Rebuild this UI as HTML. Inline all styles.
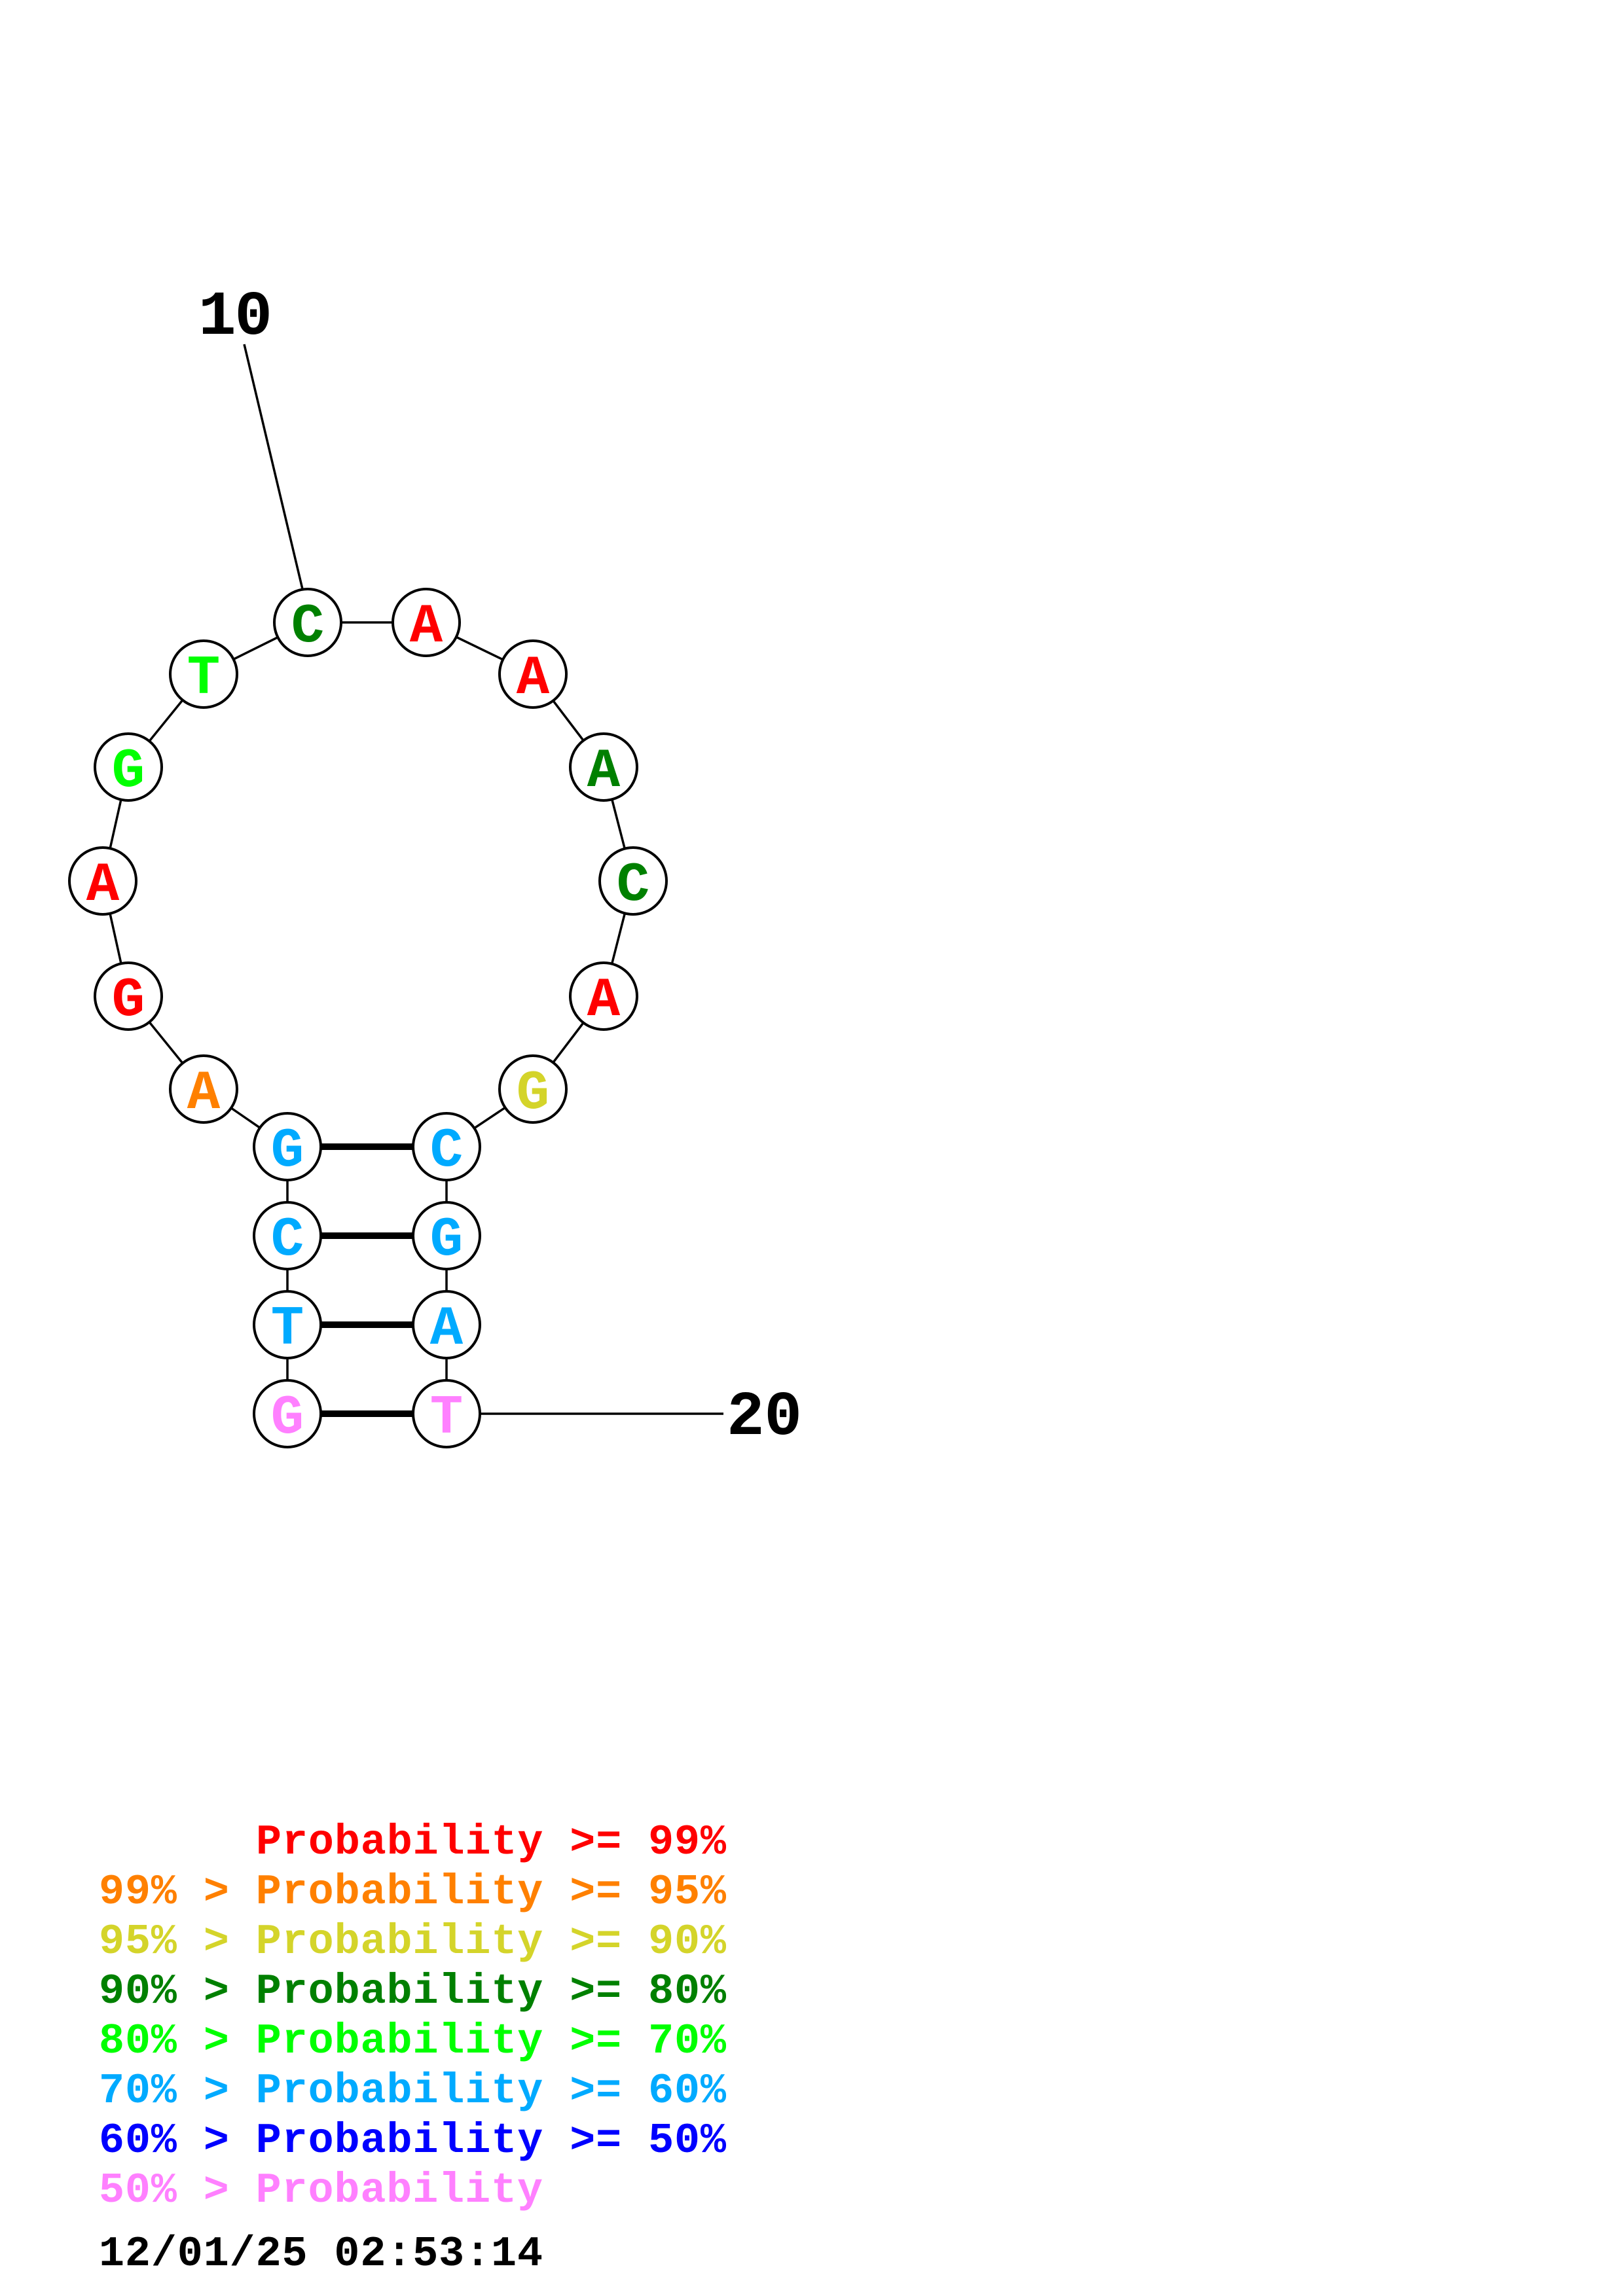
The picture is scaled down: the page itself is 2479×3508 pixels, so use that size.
<!DOCTYPE html>
<html><head><meta charset="utf-8"><style>html,body{margin:0;padding:0;background:#fff}svg{display:block}</style></head>
<body>
<svg width="2479" height="3508" viewBox="0 0 2479 3508" xmlns="http://www.w3.org/2000/svg">
<rect width="2479" height="3508" fill="#fff"/>
<g stroke="#000" stroke-width="3.5" fill="none">
<line x1="373" y1="526" x2="462" y2="900"/>
<line x1="734" y1="2160" x2="1105" y2="2160"/>
<polyline points="439,2160 439,2024 439,1888 439,1752 311,1664 196,1522 157,1346 196,1172 311,1030 470,951 651,951 814,1030 922,1172 967,1346 922,1522 814,1664 682,1752 682,1888 682,2024 682,2160"/>
</g>
<g stroke="#000" stroke-width="10">
<line x1="439" y1="1752" x2="682" y2="1752"/>
<line x1="439" y1="1888" x2="682" y2="1888"/>
<line x1="439" y1="2024" x2="682" y2="2024"/>
<line x1="439" y1="2160" x2="682" y2="2160"/>
</g>
<g stroke="#000" stroke-width="4" fill="#fff">
<circle cx="470" cy="951" r="51"/><circle cx="651" cy="951" r="51"/>
<circle cx="814" cy="1030" r="51"/><circle cx="922" cy="1172" r="51"/>
<circle cx="967" cy="1346" r="51"/><circle cx="922" cy="1522" r="51"/>
<circle cx="814" cy="1664" r="51"/><circle cx="682" cy="1752" r="51"/>
<circle cx="682" cy="1888" r="51"/><circle cx="682" cy="2024" r="51"/>
<circle cx="682" cy="2160" r="51"/>
<circle cx="311" cy="1030" r="51"/><circle cx="196" cy="1172" r="51"/>
<circle cx="157" cy="1346" r="51"/><circle cx="196" cy="1522" r="51"/>
<circle cx="311" cy="1664" r="51"/><circle cx="439" cy="1752" r="51"/>
<circle cx="439" cy="1888" r="51"/><circle cx="439" cy="2024" r="51"/>
<circle cx="439" cy="2160" r="51"/>
</g>
<g font-family="Liberation Mono, monospace" font-weight="bold" font-size="84" text-anchor="middle">
<text x="470" y="980" fill="#008000">C</text>
<text x="651" y="980" fill="#ff0000">A</text>
<text x="814" y="1059" fill="#ff0000">A</text>
<text x="922" y="1201" fill="#008000">A</text>
<text x="967" y="1375" fill="#008000">C</text>
<text x="922" y="1551" fill="#ff0000">A</text>
<text x="814" y="1693" fill="#d4d42a">G</text>
<text x="682" y="1781" fill="#00aaff">C</text>
<text x="682" y="1917" fill="#00aaff">G</text>
<text x="682" y="2053" fill="#00aaff">A</text>
<text x="682" y="2189" fill="#ff80ff">T</text>
<text x="311" y="1059" fill="#00ff00">T</text>
<text x="196" y="1201" fill="#00ff00">G</text>
<text x="157" y="1375" fill="#ff0000">A</text>
<text x="196" y="1551" fill="#ff0000">G</text>
<text x="311" y="1693" fill="#ff8000">A</text>
<text x="439" y="1781" fill="#00aaff">G</text>
<text x="439" y="1917" fill="#00aaff">C</text>
<text x="439" y="2053" fill="#00aaff">T</text>
<text x="439" y="2189" fill="#ff80ff">G</text>
</g>
<g font-family="Liberation Mono, monospace" font-weight="bold" font-size="96" fill="#000">
<text x="303" y="510" textLength="113">10</text>
<text x="1110" y="2191" textLength="115">20</text>
</g>
<g font-family="Liberation Mono, monospace" font-weight="bold" font-size="65">
<text x="391" y="2832" fill="#ff0000" textLength="718">Probability &gt;= 99%</text>
<text x="151" y="2908" fill="#ff8000" textLength="958">99% &gt; Probability &gt;= 95%</text>
<text x="151" y="2984" fill="#d4d42a" textLength="958">95% &gt; Probability &gt;= 90%</text>
<text x="151" y="3060" fill="#008000" textLength="958">90% &gt; Probability &gt;= 80%</text>
<text x="151" y="3136" fill="#00ff00" textLength="958">80% &gt; Probability &gt;= 70%</text>
<text x="151" y="3212" fill="#00aaff" textLength="958">70% &gt; Probability &gt;= 60%</text>
<text x="151" y="3288" fill="#0000ff" textLength="958">60% &gt; Probability &gt;= 50%</text>
<text x="151" y="3364" fill="#ff80ff" textLength="678">50% &gt; Probability</text>
<text x="151" y="3461" fill="#000" textLength="678">12/01/25 02:53:14</text>
</g>
</svg>
</body></html>
